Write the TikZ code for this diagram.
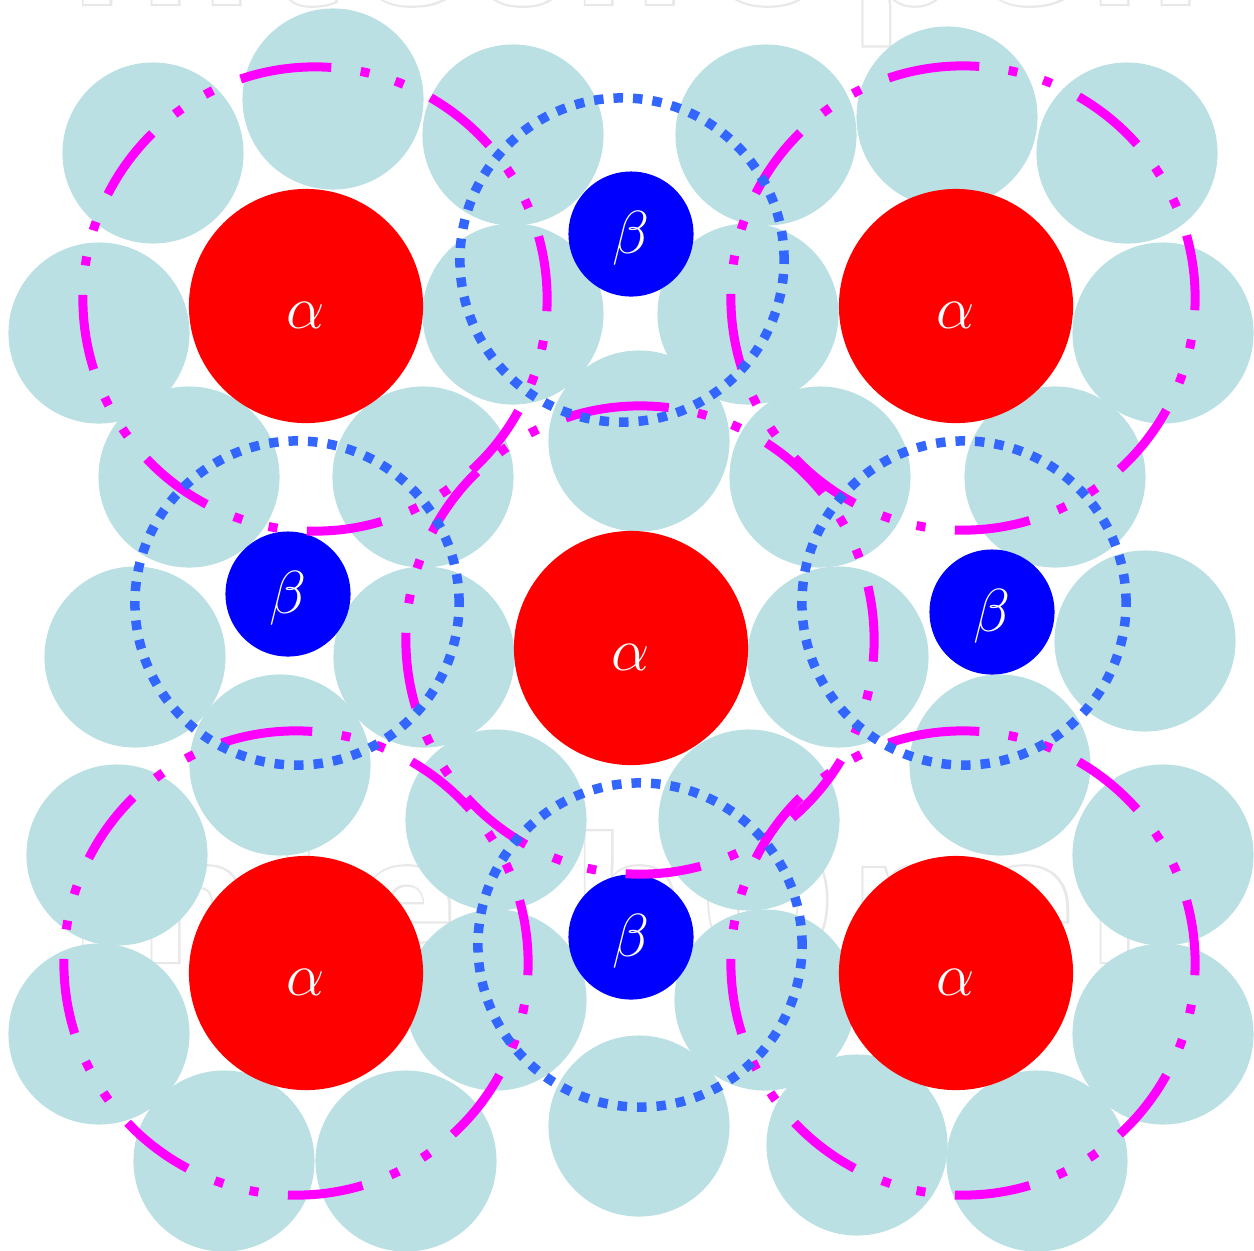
\documentclass[tikz,border=0pt]{standalone}
\usepackage{fontspec}
\newfontfamily\wmline{Open Sans}[LetterSpace=8,BoldFeatures={FakeBold=2.5}]
\newfontfamily\wmfill{Open Sans}[LetterSpace=8]
\definecolor{ballcyan}{RGB}{187,224,227}
\definecolor{dotblue}{RGB}{51,102,255}
\definecolor{alphared}{RGB}{255,0,0}
\definecolor{betablue}{RGB}{0,0,255}
\definecolor{ringmag}{RGB}{255,0,255}
\newcommand\wmtext[1]{\resizebox{11.32cm}{!}{\fontsize{48}{50}#1\bfseries IntechOpen}}
\begin{document}
\begin{tikzpicture}[x=0.01cm,y=-0.01cm,
  ball/.style={circle,fill=ballcyan,minimum size=1.81cm,inner sep=0pt},
  alphaball/.style={circle,fill=alphared,minimum size=2.34cm,inner sep=0pt},
  betaball/.style={circle,fill=betablue,minimum size=1.25cm,inner sep=0pt},
  greek/.style={text=white,inner sep=0pt,font=\fontsize{17.28}{20}\selectfont},
  dotring/.style={draw=dotblue,line width=0.095cm,dash pattern=on 0.095cm off 0.10cm},
  magring/.style={draw=ringmag,line width=0.09cm,line cap=butt,
    dash pattern=on 0.756cm off 0.30cm on 0.09cm off 0.27cm on 0.09cm off 0.296cm},
  wmout/.style={inner sep=0pt,anchor=base west,text=black!9},
  wmin/.style={inner sep=0pt,anchor=base west,text=white}
]
\useasboundingbox (0,0) rectangle (1254,1250);

% faint outlined watermark text (outline = emboldened grey under white)
\node[wmout] (w1) at (68,4) {\wmtext{\wmline}};
\node[wmin] (w1i) at (w1.base west) {\wmtext{\wmfill}};
\node[wmout] (w2) at (68,962) {\wmtext{\wmline}};
\node[wmin] (w2i) at (w2.base west) {\wmtext{\wmfill}};

% light blue atoms
\foreach \x/\y [count=\i] in {
  153/153, 333/99, 513/135, 766/135, 947/117, 1127/153,
  99/333, 513/314, 748/314, 1163/333,
  189/477, 423/477, 639/441, 820/477, 1055/477,
  135/657, 424/657, 838/657, 1145/641,
  280/765, 496/820, 749/820, 1000/765,
  117/855, 1163/855,
  99/1034, 496/1000, 765/1000, 1163/1034,
  224/1161, 406/1161, 639/1126, 857/1145, 1037/1161}
  \node[ball] (b\i) at (\x,\y) {};

% alpha atoms
\node[alphaball] (a1) at (306,306) {};
\node[alphaball] (a2) at (956,306) {};
\node[alphaball] (a3) at (631,648) {};
\node[alphaball] (a4) at (306,973) {};
\node[alphaball] (a5) at (956,973) {};
\foreach \n in {a1,a2,a3,a4,a5}
  \node[greek] (t\n) at ([yshift=-0.09cm]\n.center) {$\alpha$};

% beta atoms
\node[betaball] (p1) at (631,234) {};
\node[betaball] (p2) at (288,594) {};
\node[betaball] (p3) at (992,612) {};
\node[betaball] (p4) at (631,937) {};
\foreach \n in {p1,p2,p3,p4}
  \node[greek] (t\n) at ([yshift=-0.045cm]\n.center) {$\beta$};

% magenta dash-dot-dot rings
\coordinate (m1) at (315,299);
\coordinate (m2) at (963,298);
\coordinate (m3) at (640,640);
\coordinate (m4) at (296,963);
\coordinate (m5) at (963,963);
\foreach \m/\r in {m1/2.32cm, m2/2.32cm, m3/2.34cm, m4/2.32cm, m5/2.32cm}
  \draw[magring] (\m) ++(90:\r) arc[start angle=90,end angle=450,radius=\r];

% blue dotted rings
\coordinate (d1) at (622,260);
\coordinate (d2) at (297,603);
\coordinate (d3) at (964,603);
\coordinate (d4) at (640,945);
\foreach \d in {d1,d2,d3,d4}
  \draw[dotring] (\d) circle[radius=1.62cm];
\end{tikzpicture}
\end{document}
